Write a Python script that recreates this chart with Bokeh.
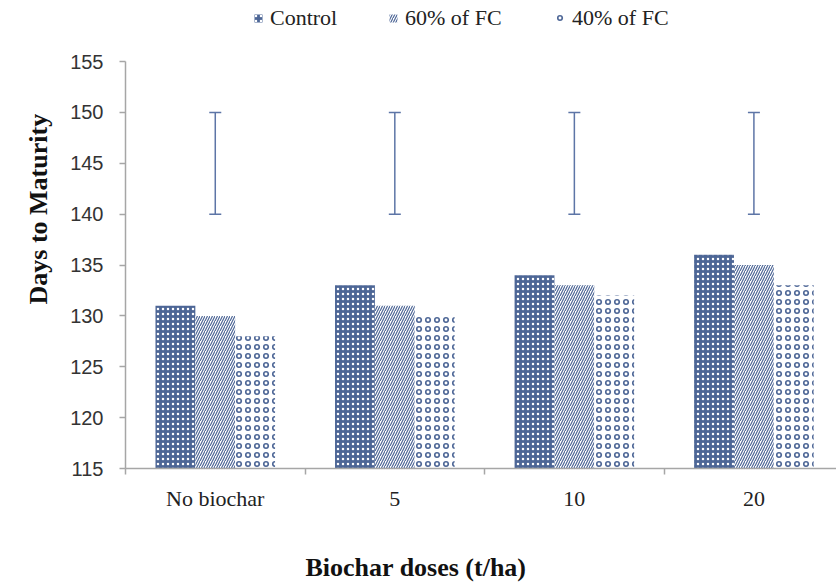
import numpy as np
from bokeh.plotting import figure
from bokeh.layouts import column
from bokeh.models import (Range1d, FixedTicker, Legend, LegendItem, Whisker, ColumnDataSource,
                          TeeHead, Title, Label)
from bokeh.embed import file_html
from bokeh.resources import INLINE

categories = ["No biochar", "5", "10", "20"]
control = [131, 133, 134, 136]
fc60 = [130, 131, 133, 135]
fc40 = [128, 130, 132, 133]
err_lower = [140, 140, 140, 140]
err_upper = [150, 150, 150, 150]
y_ticks = [115, 120, 125, 130, 135, 140, 145, 150, 155]
series_names = ["Control", "60% of FC", "40% of FC"]
x_title = "Biochar doses (t/ha)"
y_title = "Days to Maturity"

BLUE = "#4d6696"
EBLUE = "#5d75a6"
AXIS = "#a6a6a6"
SERIF = "Liberation Serif"
centers = np.arange(len(categories)) + 0.5
bw = 0.222

styles = [
    dict(fill_color=BLUE, line_color=None, hatch_pattern="dot", hatch_color="white", hatch_scale=5, hatch_weight=1.2),
    dict(fill_color="white", line_color=None, hatch_pattern="right_diagonal_line", hatch_color=BLUE, hatch_scale=5, hatch_weight=1.2),
    dict(fill_color="white", line_color=None, hatch_pattern="ring", hatch_color=BLUE, hatch_scale=9, hatch_weight=1.6),
]

TOP_H = 36
BOT_H = 46
p = figure(width=836, height=583 - TOP_H - BOT_H, output_backend="svg", toolbar_location=None,
           x_range=Range1d(0, 3.96), y_range=Range1d(115, 155),
           min_border_left=125, min_border_right=0, min_border_top=25, min_border_bottom=69)
p.outline_line_color = None
p.xgrid.visible = False
p.ygrid.visible = False

src = ColumnDataSource(dict(x=centers, lo=err_lower, hi=err_upper))

p.vbar(x=centers - bw, top=control, bottom=115, width=bw, **styles[0])
p.vbar(x=centers, top=fc60, bottom=115, width=bw, **styles[1])
p.vbar(x=centers + bw, top=fc40, bottom=115, width=bw, **styles[2])

w = Whisker(source=src, base="x", lower="lo", upper="hi", line_color=EBLUE, line_width=1.5,
            upper_head=TeeHead(size=12, line_color=EBLUE, line_width=1.5),
            lower_head=TeeHead(size=12, line_color=EBLUE, line_width=1.5))
p.add_layout(w)

xa = p.xaxis[0]
xa.ticker = FixedTicker(ticks=list(centers), minor_ticks=list(np.arange(len(categories)).astype(float)))
xa.major_label_overrides = {float(c): lab for c, lab in zip(centers, categories)}
xa.major_tick_line_color = None
xa.major_tick_out = 0
xa.major_tick_in = 0
xa.minor_tick_line_color = AXIS
xa.minor_tick_line_width = 1.5
xa.minor_tick_out = 6
xa.minor_tick_in = 0
xa.axis_line_color = AXIS
xa.axis_line_width = 1.5
xa.major_label_text_font = SERIF
xa.major_label_text_font_size = "22px"
xa.major_label_text_color = "#222222"
xa.major_label_standoff = 11

ya = p.yaxis[0]
ya.ticker = FixedTicker(ticks=y_ticks)
ya.major_tick_out = 6
ya.major_tick_in = 0
ya.major_tick_line_color = AXIS
ya.major_tick_line_width = 1.5
ya.minor_tick_line_color = None
ya.axis_line_color = AXIS
ya.axis_line_width = 1.5
ya.major_label_text_font = "Liberation Sans"
ya.major_label_text_font_size = "20px"
ya.major_label_text_color = "#333333"
ya.major_label_standoff = 16

p.add_layout(Title(text=y_title, align="left", offset=164, standoff=30,
                   text_font=SERIF, text_font_style="bold", text_font_size="26px",
                   text_color="#111111"), "left")

# legend strip on top
lg = figure(width=836, height=TOP_H, output_backend="svg", toolbar_location=None,
            x_range=Range1d(0, 1), y_range=Range1d(0, 1),
            min_border=0, min_border_left=0, min_border_right=0, min_border_top=0, min_border_bottom=0)
lg.axis.visible = False
lg.grid.visible = False
lg.outline_line_color = None
legend_x = [253, 388, 555]
for name, st, lx in zip(series_names, styles, legend_x):
    r = lg.vbar(x=[5], top=[5], bottom=[4], width=0.1, **st)
    lgd = Legend(items=[LegendItem(label=name, renderers=[r])], location=(lx - 125, 5),
                 glyph_width=10, glyph_height=10, padding=0, margin=0,
                 label_text_font=SERIF, label_text_font_size="22px",
                 label_text_color="#222222",
                 label_standoff=7, border_line_color=None, background_fill_alpha=0)
    lg.add_layout(lgd)

# x-axis title strip at the bottom
bt = figure(width=836, height=BOT_H, output_backend="svg", toolbar_location=None,
            x_range=Range1d(0, 1), y_range=Range1d(0, 1),
            min_border=0, min_border_left=0, min_border_right=0, min_border_top=0, min_border_bottom=0)
bt.axis.visible = False
bt.grid.visible = False
bt.outline_line_color = None
bt.add_layout(Label(x=180, y=16, x_units="screen", y_units="screen", text=x_title,
                    text_font=SERIF, text_font_style="bold", text_font_size="26px",
                    text_color="#111111", text_baseline="middle", text_align="left"))

layout = column(lg, p, bt, spacing=0)
open("out.html", "w").write(file_html(layout, INLINE))
